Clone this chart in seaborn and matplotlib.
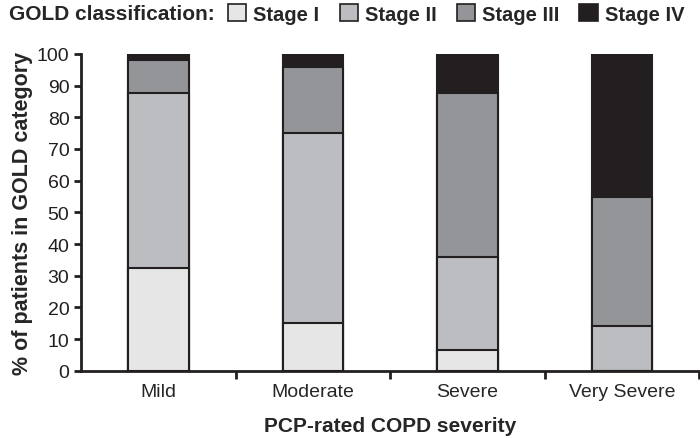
import matplotlib
matplotlib.use("Agg")
import matplotlib.pyplot as plt
from matplotlib.patches import Patch
import numpy as np
import pandas as pd
import seaborn as sns

severity = ["Mild", "Moderate", "Severe", "Very Severe"]
stages = ["Stage I", "Stage II", "Stage III", "Stage IV"]
stage1 = [32.5, 15, 6.5, 0]
stage2 = [55, 60, 29.5, 14]
stage3 = [10.5, 21, 51.5, 41]
stage4 = [2, 4, 12.5, 45]
colors = ["#e6e6e6", "#bcbdc0", "#939598", "#231f20"]

sns.set_style("ticks")
plt.rcParams["font.family"] = ["Liberation Sans", "DejaVu Sans"]

df = pd.DataFrame({"severity": severity, "Stage I": stage1, "Stage II": stage2,
                   "Stage III": stage3, "Stage IV": stage4})
cum = df[stages].cumsum(axis=1)

fig = plt.figure(figsize=(7, 4.39), dpi=100)
ax = fig.add_axes([0.116, 0.153, 0.883, 0.722])

# stacked look: draw cumulative totals, tallest first
for st, col in zip(stages[::-1], colors[::-1]):
    sns.barplot(x=df["severity"], y=cum[st], color=col, width=0.39,
                edgecolor="#231f20", linewidth=1.5, ax=ax, saturation=1)

ax.set_ylim(0, 100)
ax.set_xlim(-0.5, 3.5)
ax.set_yticks(np.arange(0, 101, 10))
ax.tick_params(axis="y", labelsize=14, length=5, width=2, colors="#231f20")
ax.set_xticks(range(4))
ax.set_xticklabels(severity)
ax.tick_params(axis="x", which="major", length=0, labelsize=14, pad=9)
ax.set_xticks([0.5, 1.5, 2.5, 3.5], minor=True)
ax.tick_params(axis="x", which="minor", length=6, width=2, color="#231f20")
sns.despine(ax=ax)
for s in ["left", "bottom"]:
    ax.spines[s].set_linewidth(2)
    ax.spines[s].set_color("#231f20")

ax.set_xlabel("PCP-rated COPD severity", fontsize=15, fontweight="bold", labelpad=11)
ax.set_ylabel("% of patients in GOLD category", fontsize=15.5, fontweight="bold", labelpad=3)

fig.text(0.013, 0.966, "GOLD classification:", fontsize=15, fontweight="bold", va="center")
handles = [Patch(facecolor=c, edgecolor="#231f20", linewidth=1.2) for c in colors]
fig.legend(handles, stages, ncol=4, loc="center left", bbox_to_anchor=(0.326, 0.966),
           frameon=False, prop={"size": 14.5, "weight": "bold"},
           handlelength=0.9, handleheight=0.9,
           handletextpad=0.35, columnspacing=1.0, borderaxespad=0, borderpad=0)

fig.savefig("out.png", dpi=100)
